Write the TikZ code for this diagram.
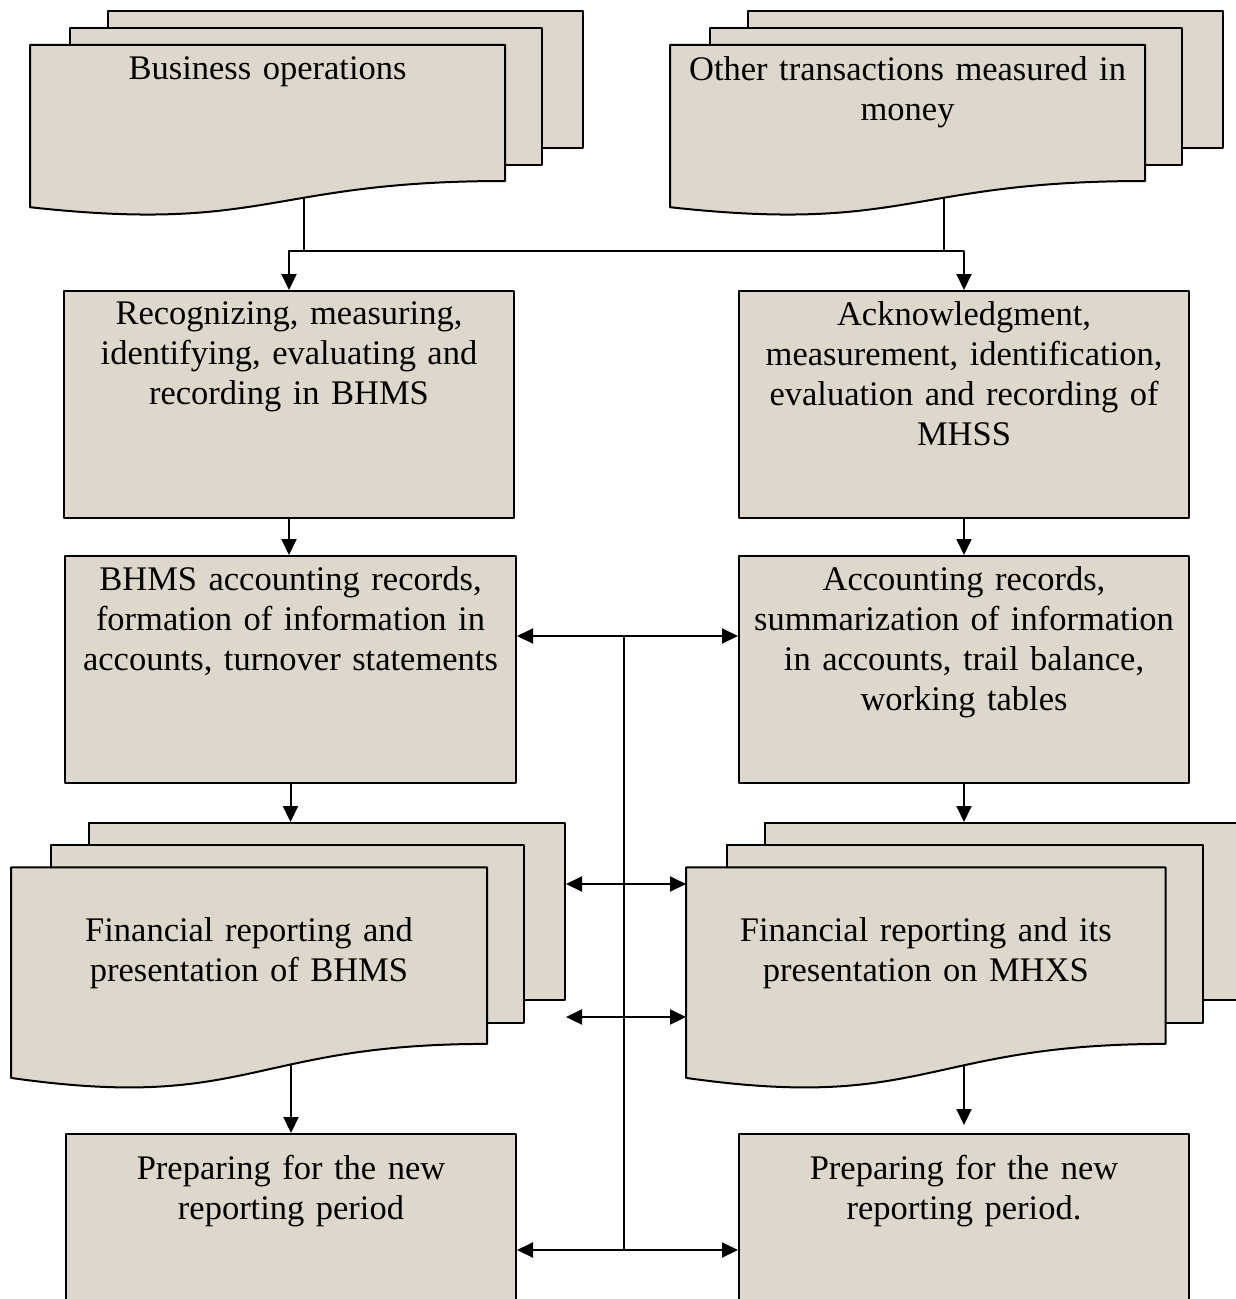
\documentclass[tikz,border=0pt]{standalone}
\usepackage{fontspec}
\setmainfont{Liberation Serif}
\usetikzlibrary{arrows.meta}

\definecolor{parch}{RGB}{222,215,203}
\newcommand{\boxfont}{\fontsize{34.5}{40}\selectfont}

\begin{document}
\begin{tikzpicture}[x=1pt, y=-1pt, line cap=round, line join=round,
  >={Triangle[length=16pt,width=15pt]},
  sheet/.style={draw=black, fill=parch, line width=2pt},
  procbox/.style={sheet, rectangle, inner sep=0pt, anchor=north west},
  boxtext/.style={anchor=north, inner sep=0pt, text width=440pt, align=center, font=\boxfont},
  arr/.style={line width=2pt, ->},
  twin/.style={line width=2pt, <->},
  feed/.style={line width=1.8pt}]

  %% ════ 多文档（上左：Business operations）════
  \node[procbox, minimum width=475pt, minimum height=136.6pt] (tlback) at (107,10) {};
  \node[procbox, minimum width=471.9pt, minimum height=137pt] (tlmid) at (69.2,27.2) {};
  \filldraw[sheet] (30,44.9) -- (505.2,44.9) -- (505.2,181.0) .. controls (267.6,181.0) and (267.6,233.4) .. node[coordinate,pos=0.4] (tlbot) {} (30,207.2) -- cycle;

  %% ════ 多文档（上右：Other transactions）════
  \node[procbox, minimum width=475pt, minimum height=136.6pt] (trback) at (747,10) {};
  \node[procbox, minimum width=471.9pt, minimum height=137pt] (trmid) at (709.2,27.2) {};
  \filldraw[sheet] (670,44.9) -- (1145.2,44.9) -- (1145.2,181.0) .. controls (907.6,181.0) and (907.6,233.4) .. node[coordinate,pos=0.4] (trbot) {} (670,207.2) -- cycle;

  %% ════ 多文档（下左：BHMS 报表）════
  \node[procbox, minimum width=475.8pt, minimum height=177.2pt] (blback) at (88.2,822) {};
  \node[procbox, minimum width=472.8pt, minimum height=177.7pt] (blmid) at (50.2,844.4) {};
  \filldraw[sheet] (11,867.3) -- (487.1,867.3) -- (487.1,1043.9) .. controls (249.0,1043.9) and (249.0,1111.9) .. node[coordinate,pos=0.4] (blbot) {} (11,1077.9) -- cycle;

  %% ════ 多文档（下右：MHXS 报表）════
  \node[procbox, minimum width=479.3pt, minimum height=177.2pt] (brback) at (763.7,822) {};
  \node[procbox, minimum width=476.2pt, minimum height=177.7pt] (brmid) at (725.5,844.4) {};
  \filldraw[sheet] (686,867.3) -- (1165.5,867.3) -- (1165.5,1043.9) .. controls (925.8,1043.9) and (925.8,1111.9) .. node[coordinate,pos=0.4] (brbot) {} (686,1077.9) -- cycle;
  \coordinate (brfront) at (686,867.3);

  %% ════ 处理框 ════
  \node[procbox, minimum width=450pt, minimum height=227pt] (l1) at (63,290) {};
  \node[procbox, minimum width=450pt, minimum height=227pt] (r1) at (738,290) {};
  \node[procbox, minimum width=451pt, minimum height=227pt] (l2) at (64,555) {};
  \node[procbox, minimum width=450pt, minimum height=227pt] (r2) at (738,555) {};
  \node[procbox, minimum width=450pt, minimum height=200pt] (l4) at (65,1133) {};
  \node[procbox, minimum width=450pt, minimum height=200pt] (r4) at (738,1133) {};

  %% ════ 文字 ════
  \node[boxtext] (tlt) at (267.6,56) {Business operations};
  \node[boxtext] (trt) at (907.6,56) {Other transactions measured in\\money};
  \node[boxtext] (blt) at (249,917) {Financial reporting and\\presentation of BHMS};
  \node[boxtext] (brt) at (925.8,917) {Financial reporting and its\\presentation on MHXS};
  \node[boxtext] (l1t) at ([yshift=-11pt]l1.north) {Recognizing, measuring,\\identifying, evaluating and\\recording in BHMS};
  \node[boxtext] (r1t) at ([yshift=-11pt]r1.north) {Acknowledgment,\\measurement, identification,\\evaluation and recording of\\MHSS};
  \node[boxtext] (l2t) at ([yshift=-11pt]l2.north) {BHMS accounting records,\\formation of information in\\accounts, turnover statements};
  \node[boxtext] (r2t) at ([yshift=-11pt]r2.north) {Accounting records,\\summarization of information\\in accounts, trail balance,\\working tables};
  \node[boxtext] (l4t) at ([yshift=-22pt]l4.north) {Preparing for the new\\reporting period};
  \node[boxtext] (r4t) at ([yshift=-22pt]r4.north) {Preparing for the new\\reporting period.};

  %% ════ 连接线 ════
  \coordinate (busL) at (288,251);
  \draw[feed] (tlbot) -- (tlbot |- busL);
  \draw[feed] (trbot) -- (trbot |- busL);
  \draw[twin] (l1.north) -- (l1.north |- busL) -- (r1.north |- busL) -- (r1.north);

  \draw[arr] (l1.south) -- (l1.south |- l2.north);
  \draw[arr] (r1.south) -- (r1.south |- r2.north);
  \draw[arr] (l2.south) -- (l2.south |- blback.north);
  \draw[arr] (r2.south) -- (r2.south |- brback.north);
  \draw[arr] (blbot -| l4.north) -- (l4.north);
  \draw[arr, shorten >=8pt] (brbot -| r4.north) -- (r4.north);

  % 中轴线 + 两侧箭头
  \coordinate (mid1) at (624,636);
  \coordinate (mid2) at (624,884);
  \coordinate (mid3) at (624,1017);
  \coordinate (mid4) at (624,1250);
  \draw[feed] (mid1) -- (mid4);
  \foreach \m/\a/\b in {mid1/l2.east/r2.west, mid2/blback.east/brfront, mid3/blback.east/brfront, mid4/l4.east/r4.west} {
    \draw[arr] (\m) -- (\m -| \a);
    \draw[arr] (\m) -- (\m -| \b);
  }

  % 钉死画布
  \pgfresetboundingbox
  \path[use as bounding box] (0,0) rectangle (1235,1299);
\end{tikzpicture}
\end{document}
